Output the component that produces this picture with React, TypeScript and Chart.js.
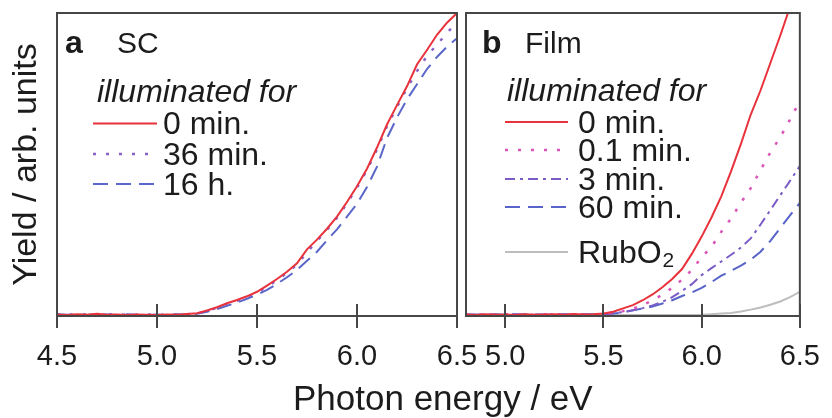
import React, { useEffect, useRef } from "react";
import { Chart, registerables } from "chart.js";

Chart.register(...registerables);

const FONT = '"Liberation Sans", Arial, Helvetica, sans-serif';

// ---------- Panel a: SC ----------
const energyA = [
  4.5, 4.55, 4.6, 4.65, 4.7, 4.75, 4.8, 4.85, 4.9, 4.95,
  5.0, 5.05, 5.1, 5.15, 5.2, 5.25, 5.3, 5.35, 5.4, 5.45,
  5.5, 5.55, 5.6, 5.65, 5.7, 5.75, 5.8, 5.85, 5.9, 5.95,
  6.0, 6.05, 6.1, 6.15, 6.2, 6.25, 6.3, 6.35, 6.4, 6.45, 6.5,
];
const sc0min = [
  0.5, 0.3, 0.6, 0.4, 0.7, 0.4, 0.5, 0.3, 0.5, 0.4,
  0.3, 0.5, 0.4, 0.7, 0.9, 1.8, 2.9, 4.2, 5.3, 6.5,
  8.0, 10.0, 12.2, 14.6, 17.4, 22.0, 25.2, 28.8, 32.8, 37.6,
  42.8, 48.6, 55.6, 63.2, 69.6, 75.8, 83.0, 87.8, 92.8, 96.8, 100,
];
const sc36min = [
  0.4, 0.5, 0.4, 0.6, 0.5, 0.6, 0.4, 0.5, 0.4, 0.5,
  0.4, 0.4, 0.5, 0.6, 0.8, 1.6, 2.7, 3.9, 5.0, 6.3,
  7.7, 9.6, 11.8, 14.2, 17.0, 21.0, 24.8, 28.4, 32.4, 37.2,
  42.4, 48.2, 55.0, 62.6, 69.0, 75.2, 80.8, 85.8, 89.6, 93.4, 97.0,
];
const sc16h = [
  0.6, 0.4, 0.5, 0.3, 0.6, 0.5, 0.3, 0.6, 0.4, 0.3,
  0.5, 0.3, 0.6, 0.5, 0.7, 1.4, 2.3, 3.4, 4.4, 5.7,
  7.0, 8.6, 10.6, 12.8, 15.2, 18.2, 21.2, 25.0, 28.6, 32.8,
  37.0, 42.6, 49.3, 58.7, 65.5, 71.5, 76.5, 81.5, 85.5, 88.9, 91.7,
];
const ticksA = [4.5, 5.0, 5.5, 6.0, 6.5];
const labelsA = ["0 min.", "36 min.", "16 h."];

// ---------- Panel b: Film ----------
const energyB = [
  4.8, 4.85, 4.9, 4.95, 5.0, 5.05, 5.1, 5.15, 5.2, 5.25,
  5.3, 5.35, 5.4, 5.45, 5.5, 5.55, 5.6, 5.65, 5.7, 5.75,
  5.8, 5.85, 5.9, 5.95, 6.0, 6.05, 6.1, 6.15, 6.2, 6.25,
  6.3, 6.35, 6.4, 6.45, 6.5,
];
const film0min = [
  0.5, 0.3, 0.6, 0.4, 0.5, 0.3, 0.6, 0.4, 0.5, 0.6,
  0.4, 0.7, 0.5, 0.6, 0.8, 1.4, 2.5, 3.6, 5.2, 7.1,
  9.5, 12.2, 15.5, 20.5, 26.2, 32.5, 39.5, 47.8, 56.8, 66.5,
  74.5, 83.5, 92.5, 102, 112,
];
const film01min = [
  0.4, 0.6, 0.3, 0.5, 0.6, 0.4, 0.5, 0.3, 0.6, 0.5,
  0.4, 0.6, 0.5, 0.4, 0.7, 1.0, 1.6, 2.4, 3.6, 5.2,
  7.0, 9.3, 12.0, 15.2, 19.4, 22.8, 27.8, 32.2, 37.4, 42.2,
  48.2, 54.0, 59.0, 64.8, 71.0,
];
const film3min = [
  0.5, 0.4, 0.6, 0.4, 0.5, 0.6, 0.3, 0.5, 0.4, 0.6,
  0.5, 0.4, 0.6, 0.5, 0.6, 0.9, 1.3, 1.9, 2.6, 3.5,
  4.7, 6.2, 8.3, 10.5, 13.5, 15.8, 18.0, 20.2, 22.6, 25.6,
  30.2, 35.0, 39.8, 44.6, 49.5,
];
const film60min = [
  0.4, 0.5, 0.3, 0.6, 0.4, 0.5, 0.6, 0.4, 0.5, 0.3,
  0.6, 0.4, 0.5, 0.6, 0.5, 0.8, 1.2, 1.9, 2.5, 3.1,
  4.1, 5.2, 6.6, 7.8, 9.3, 11.2, 13.3, 14.9, 16.6, 18.6,
  21.2, 24.8, 29.0, 33.2, 37.3,
];
const rubO2 = [
  0.3, 0.3, 0.3, 0.3, 0.3, 0.3, 0.3, 0.3, 0.3, 0.3,
  0.3, 0.3, 0.3, 0.3, 0.3, 0.3, 0.3, 0.3, 0.3, 0.3,
  0.3, 0.3, 0.3, 0.3, 0.4, 0.6, 0.8, 1.0, 1.5, 2.1,
  2.8, 3.7, 4.8, 6.2, 8.0,
];
const ticksB = [5.0, 5.5, 6.0, 6.5];
const labelsB = ["0 min.", "0.1 min.", "3 min.", "60 min.", "RubO₂"];

const pts = (xs: number[], ys: number[]) => xs.map((x, i) => ({ x, y: ys[i] }));

const TEXT = "#1c1c1c";
const FRAME = "#474747";

const framePlugin = {
  id: "panelFrame",
  afterDatasetsDraw(chart: any) {
    const { ctx, chartArea: a } = chart;
    const xs = chart.scales.x;
    ctx.save();
    ctx.strokeStyle = FRAME;
    ctx.lineWidth = 2;
    ctx.beginPath();
    xs.ticks.forEach((t: any) => {
      const px = Math.round(xs.getPixelForValue(t.value));
      ctx.moveTo(px, a.bottom);
      ctx.lineTo(px, a.bottom - 12);
    });
    ctx.stroke();
    ctx.strokeRect(a.left, a.top, a.right - a.left, a.bottom - a.top);
    ctx.restore();
  },
};

const textPlugin = {
  id: "panelText",
  afterDraw(chart: any, _args: any, o: any) {
    if (!o || !o.letter) return;
    const ctx = chart.ctx;
    ctx.save();
    ctx.fillStyle = TEXT;
    ctx.textAlign = "left";
    ctx.textBaseline = "alphabetic";
    ctx.font = `bold 32px ${FONT}`;
    ctx.fillText(o.letter, o.letterX, o.headY);
    ctx.font = `30px ${FONT}`;
    ctx.fillText(o.name, o.nameX, o.headY);
    ctx.font = `italic 32px ${FONT}`;
    ctx.fillText(o.caption, o.captionX, o.captionY);
    chart.data.datasets.forEach((ds: any, i: number) => {
      const cy = o.rowY[i];
      ctx.save();
      ctx.strokeStyle = ds.borderColor;
      ctx.lineWidth = ds.borderWidth;
      ctx.lineCap = "butt";
      ctx.setLineDash(ds.borderDash || []);
      ctx.beginPath();
      ctx.moveTo(o.lineX0, cy + 1);
      ctx.lineTo(o.lineX1, cy + 1);
      ctx.stroke();
      ctx.restore();
      const label: string = ds.label;
      const base = cy + 11.5;
      ctx.font = `32px ${FONT}`;
      if (label.includes("₂")) {
        const main = label.replace("₂", "");
        ctx.fillText(main, o.textX, base);
        const w = ctx.measureText(main).width;
        ctx.font = `21px ${FONT}`;
        ctx.fillText("2", o.textX + w + 1, base + 4);
      } else {
        ctx.fillText(label, o.textX, base);
      }
    });
    if (o.xTitle) {
      ctx.font = `35px ${FONT}`;
      ctx.fillText(o.xTitle, o.xTitleX, o.xTitleY);
    }
    ctx.restore();
  },
};

function xScale(min: number, max: number, ticks: number[]) {
  return {
    type: "linear",
    min,
    max,
    afterBuildTicks: (s: any) => {
      s.ticks = ticks.map((v) => ({ value: v }));
    },
    afterFit: (s: any) => {
      s.height = 102;
    },
    grid: {
      display: true,
      drawOnChartArea: false,
      drawTicks: true,
      tickLength: 12,
      color: FRAME,
      lineWidth: 2,
    },
    border: { display: false },
    ticks: {
      autoSkip: false,
      maxRotation: 0,
      padding: 12,
      color: TEXT,
      font: { family: FONT, size: 29 },
      callback: (v: any) => Number(v).toFixed(1),
    },
  };
}

function line(label: string, xs: number[], ys: number[], color: string, dash: number[], width = 2) {
  return {
    label,
    data: pts(xs, ys),
    borderColor: color,
    backgroundColor: color,
    borderWidth: width,
    borderDash: dash,
    pointRadius: 0,
    tension: 0,
    fill: false,
  };
}

export default function App() {
  const refA = useRef<HTMLCanvasElement>(null);
  const refB = useRef<HTMLCanvasElement>(null);

  useEffect(() => {
    const chartA = new Chart(refA.current as HTMLCanvasElement, {
      type: "line",
      data: {
        datasets: [
          line(labelsA[0], energyA, sc0min, "#e8323c", []),
          line(labelsA[1], energyA, sc36min, "#8a62c8", [3, 10], 2.5),
          line(labelsA[2], energyA, sc16h, "#5a66c8", [15, 8]),
        ],
      },
      options: {
        responsive: false,
        animation: false,
        layout: { padding: { left: 0, top: 13, right: 375, bottom: 0 } },
        plugins: {
          legend: { display: false },
          tooltip: { enabled: false },
          panelText: {
            letter: "a",
            name: "SC",
            letterX: 65,
            nameX: 117,
            headY: 53,
            caption: "illuminated for",
            captionX: 97,
            captionY: 102,
            lineX0: 93,
            lineX1: 157,
            textX: 163,
            rowY: [122.5, 153, 183],
            xTitle: "Photon energy / eV",
            xTitleX: 293,
            xTitleY: 410,
          },
        } as any,
        scales: {
          x: xScale(4.5, 6.5, ticksA) as any,
          y: {
            min: 0,
            max: 100,
            afterFit: (s: any) => {
              s.width = 57;
            },
            grid: { display: false },
            border: { display: false },
            ticks: { display: false },
            title: {
              display: true,
              text: "Yield / arb. units",
              color: TEXT,
              font: { family: FONT, size: 34 },
              padding: { top: 6, bottom: 0 },
            },
          },
        },
      },
      plugins: [framePlugin, textPlugin],
    });

    const chartB = new Chart(refB.current as HTMLCanvasElement, {
      type: "line",
      data: {
        datasets: [
          line(labelsB[0], energyB, film0min, "#e8323c", []),
          line(labelsB[1], energyB, film01min, "#d955b8", [3, 10], 2.5),
          line(labelsB[2], energyB, film3min, "#7b5cc6", [10, 5, 3, 5]),
          line(labelsB[3], energyB, film60min, "#5864c8", [15, 8]),
          line(labelsB[4], energyB, rubO2, "#bdbdbd", []),
        ],
      },
      options: {
        responsive: false,
        animation: false,
        layout: { padding: { left: 4, top: 13, right: 23, bottom: 0 } },
        plugins: {
          legend: { display: false },
          tooltip: { enabled: false },
          panelText: {
            letter: "b",
            name: "Film",
            letterX: 20,
            nameX: 63,
            headY: 53,
            caption: "illuminated for",
            captionX: 45,
            captionY: 101,
            lineX0: 43,
            lineX1: 106,
            textX: 116,
            rowY: [121, 149, 178, 206, 251],
          },
        } as any,
        scales: {
          x: xScale(4.8, 6.5, ticksB) as any,
          y: { min: 0, max: 100, display: false },
        },
      },
      plugins: [framePlugin, textPlugin],
    });

    return () => {
      chartA.destroy();
      chartB.destroy();
    };
  }, []);

  return (
    <div style={{ position: "absolute", left: 0, top: 0, width: 832, height: 418, background: "#fff" }}>
      <canvas ref={refA} width={832} height={418} style={{ position: "absolute", left: 0, top: 0 }} />
      <canvas ref={refB} width={370} height={418} style={{ position: "absolute", left: 462, top: 0 }} />
    </div>
  );
}
